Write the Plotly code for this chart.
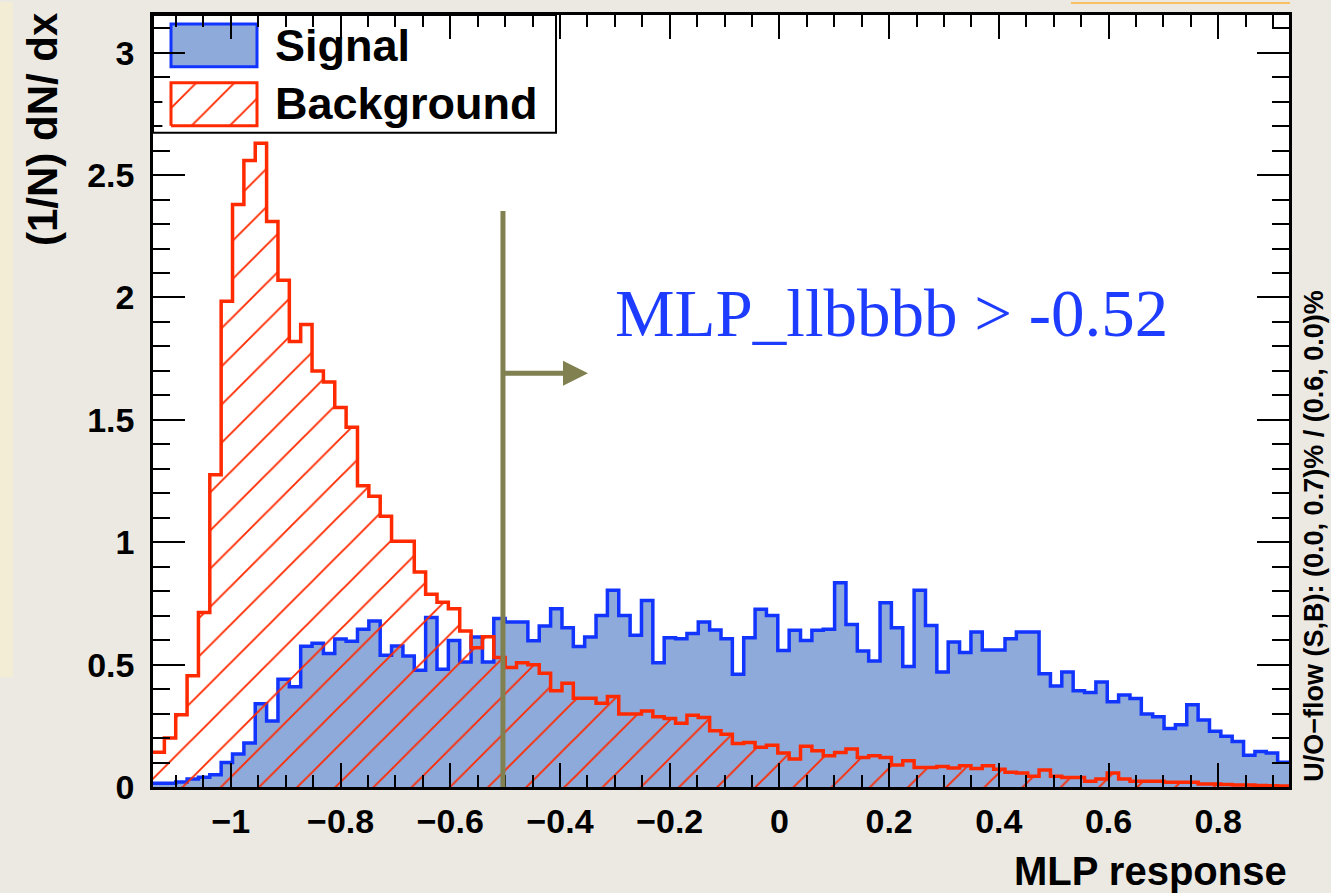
import numpy as np
import plotly.graph_objects as go

# ---------------- data ----------------
x_min, x_max, n_bins = -1.142, 0.929, 100

signal = [0.015, 0.015, 0.02, 0.033, 0.04, 0.05, 0.10, 0.135, 0.18, 0.34,
          0.27, 0.44, 0.41, 0.575, 0.587, 0.545, 0.605, 0.595, 0.644, 0.678,
          0.538, 0.576, 0.535, 0.477, 0.692, 0.481, 0.599, 0.511, 0.613, 0.511,
          0.688, 0.674, 0.674, 0.597, 0.658, 0.728, 0.651, 0.574, 0.613, 0.701,
          0.804, 0.701, 0.620, 0.762, 0.508, 0.610, 0.606, 0.627, 0.674, 0.641,
          0.606, 0.461, 0.610, 0.726, 0.701, 0.558, 0.640, 0.599, 0.640, 0.644,
          0.834, 0.664, 0.556, 0.515, 0.753, 0.651, 0.492, 0.804, 0.660, 0.470,
          0.592, 0.549, 0.633, 0.560, 0.560, 0.606, 0.633, 0.633, 0.463, 0.413,
          0.470, 0.393, 0.386, 0.429, 0.348, 0.376, 0.362, 0.298, 0.287, 0.239,
          0.254, 0.336, 0.274, 0.228, 0.207, 0.186, 0.130, 0.145, 0.139, 0.101]

background = [0.142, 0.20, 0.295, 0.455, 0.713, 1.276, 1.985, 2.38, 2.56, 2.63,
              2.31, 2.07, 1.82, 1.89, 1.70, 1.655, 1.55, 1.47, 1.231, 1.188,
              1.106, 1.004, 1.004, 0.878, 0.787, 0.755, 0.728, 0.637, 0.569, 0.614,
              0.529, 0.488, 0.508, 0.499, 0.465, 0.393, 0.424, 0.363, 0.363, 0.342,
              0.370, 0.298, 0.298, 0.31, 0.287, 0.280, 0.260, 0.293, 0.284, 0.230,
              0.216, 0.178, 0.182, 0.162, 0.171, 0.139, 0.114, 0.166, 0.148, 0.128,
              0.141, 0.155, 0.121, 0.128, 0.121, 0.090, 0.107, 0.080, 0.080, 0.084,
              0.078, 0.087, 0.076, 0.087, 0.073, 0.060, 0.057, 0.044, 0.069, 0.044,
              0.039, 0.039, 0.023, 0.033, 0.057, 0.033, 0.023, 0.023, 0.023, 0.019,
              0.019, 0.019, 0.012, 0.012, 0.010, 0.008, 0.008, 0.006, 0.005, 0.004]

cut_value = -0.504
cut_top = 2.353
arrow_end = -0.349
arrow_y = 1.69

y_max = 3.154
cut_label = "MLP_llbbbb > -0.52"
x_title = "MLP response"
y_title = "(1/N) dN/ dx"
overflow_label = "U/O\u2212flow (S,B): (0.0, 0.7)% / (0.6, 0.0)%"

# ---------------- styles ----------------
SANS = "Liberation Sans"
SERIF = "Liberation Serif"
SIG_LINE = "#1234ff"
SIG_FILL = "#8eaadb"
BKG_LINE = "#ff2a00"
CUT_COLOR = "#808050"
PAPER = "#ECE9E3"

edges = np.linspace(x_min, x_max, n_bins + 1)


def step_y(vals):
    return list(vals) + [vals[-1]]


hatch = dict(shape="/", fgcolor=BKG_LINE, bgcolor="rgba(0,0,0,0)",
             size=27, solidity=0.07, fgopacity=1, fillmode="overlay")

fig = go.Figure()

fig.add_trace(go.Scatter(
    x=edges, y=step_y(signal), mode="lines",
    line=dict(shape="hv", color=SIG_LINE, width=3.5),
    fill="tozeroy", fillcolor=SIG_FILL, showlegend=False, hoverinfo="skip"))

fig.add_trace(go.Scatter(
    x=edges, y=step_y(background), mode="lines",
    line=dict(shape="hv", color=BKG_LINE, width=3.5),
    fill="tozeroy", fillcolor="rgba(0,0,0,0)", fillpattern=hatch,
    showlegend=False, hoverinfo="skip"))

# legend swatch for background (hatched), drawn on a helper subplot
fig.add_trace(go.Scatter(
    x=[0, 1, 1, 0, 0], y=[0, 0, 1, 1, 0], mode="lines",
    line=dict(color=BKG_LINE, width=3), fill="toself", fillcolor="rgba(0,0,0,0)",
    fillpattern=hatch,
    xaxis="x2", yaxis="y2", showlegend=False, hoverinfo="skip"))

# ---------------- plot geometry helpers (pixel -> paper) ----------------
L, R, T, B = 153, 42, 13, 106
W, H = 1331, 893
pw, ph = W - L - R, H - T - B


def px(xp):
    return (xp - L) / pw


def py(yp):
    return (H - B - yp) / ph


tickfont = dict(family=SANS, size=34, color="black", weight="bold")

fig.update_layout(
    width=W, height=H,
    margin=dict(l=L, r=R, t=T, b=B),
    paper_bgcolor=PAPER, plot_bgcolor="white",
    showlegend=False,
    xaxis=dict(range=[x_min, x_max], tick0=0, dtick=0.2,
               ticks="inside", ticklen=24, tickwidth=2, tickcolor="black",
               showline=True, linecolor="black", linewidth=2.5, mirror="ticks",
               showgrid=False, zeroline=False, tickfont=tickfont,
               ticklabelstandoff=2,
               minor=dict(dtick=0.05, ticks="inside", ticklen=12, tickwidth=2,
                          tickcolor="black", showgrid=False)),
    yaxis=dict(range=[0, y_max], tick0=0, dtick=0.5,
               ticks="inside", ticklen=32, tickwidth=2, tickcolor="black",
               showline=True, linecolor="black", linewidth=2.5, mirror="ticks",
               showgrid=False, zeroline=False, tickfont=tickfont,
               ticklabelstandoff=9,
               minor=dict(dtick=0.1, ticks="inside", ticklen=17, tickwidth=2,
                          tickcolor="black", showgrid=False)),
    xaxis2=dict(domain=[px(162.4), px(265.6)], range=[-0.1, 1.1], visible=False,
                anchor="y2", fixedrange=True),
    yaxis2=dict(domain=[py(128.3), py(76.7)], range=[-0.1, 1.1], visible=False,
                anchor="x2", fixedrange=True),
)

shapes = [
    # legend box
    dict(type="rect", xref="paper", yref="paper", x0=0, x1=px(556), y0=py(131), y1=1,
         fillcolor="white", line=dict(color="black", width=2), layer="below"),
    # signal swatch
    dict(type="rect", xref="paper", yref="paper", x0=px(171), x1=px(257), y0=py(65), y1=py(22),
         fillcolor=SIG_FILL, line=dict(color=SIG_LINE, width=3), layer="below"),
    # cut line
    dict(type="line", xref="x", yref="y", x0=cut_value, x1=cut_value, y0=0, y1=cut_top,
         line=dict(color=CUT_COLOR, width=5)),
    # slide decorations
    dict(type="rect", xref="paper", yref="paper", x0=px(0), x1=px(13), y0=py(677), y1=py(0),
         fillcolor="#F4EDD6", line=dict(width=0), layer="below"),
    dict(type="rect", xref="paper", yref="paper", x0=px(1071), x1=px(1290), y0=py(2), y1=py(0),
         fillcolor="#F9C063", line=dict(width=0), layer="below"),
]
fig.update_layout(shapes=shapes)

annotations = [
    dict(text="Signal", xref="paper", yref="paper", x=px(273), y=py(44),
         xanchor="left", yanchor="middle", showarrow=False,
         font=dict(family=SANS, size=45, color="black", weight="bold")),
    dict(text="Background", xref="paper", yref="paper", x=px(273), y=py(102),
         xanchor="left", yanchor="middle", showarrow=False,
         font=dict(family=SANS, size=45, color="black", weight="bold")),
    dict(text=cut_label, xref="paper", yref="paper", x=px(613), y=py(312),
         xanchor="left", yanchor="middle", showarrow=False,
         font=dict(family=SERIF, size=67, color="#1e3cff")),
    dict(text=x_title, xref="paper", yref="paper", x=px(1289), y=py(871),
         xanchor="right", yanchor="middle", showarrow=False,
         font=dict(family=SANS, size=40, color="black", weight="bold")),
    dict(text=y_title, xref="paper", yref="paper", x=px(42), y=py(8),
         xanchor="center", yanchor="top", textangle=-90, showarrow=False,
         font=dict(family=SANS, size=42, color="black", weight="bold")),
    dict(text=overflow_label, xref="paper", yref="paper", x=px(1314), y=py(536),
         xanchor="center", yanchor="middle", textangle=-90, showarrow=False,
         font=dict(family=SANS, size=27, color="black", weight="bold")),
    dict(text="", x=arrow_end, y=arrow_y, ax=cut_value, ay=arrow_y,
         xref="x", yref="y", axref="x", ayref="y", showarrow=True,
         arrowhead=2, arrowsize=1.0, arrowwidth=5, arrowcolor=CUT_COLOR, standoff=0),
]
fig.update_layout(annotations=annotations)

fig.write_html("out.html",
               config={"displayModeBar": False},
               post_script="document.body.style.margin='0px';"
                           "document.body.style.padding='0px';"
                           "document.body.style.overflow='hidden';"
                           "document.documentElement.style.background='" + PAPER + "';")
